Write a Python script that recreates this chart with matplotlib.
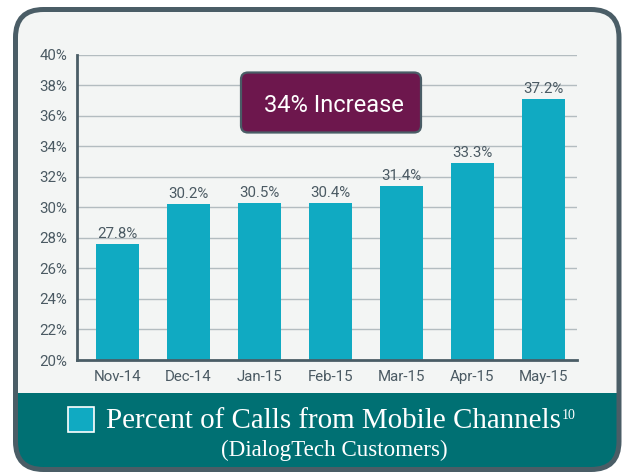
import matplotlib
matplotlib.use("Agg")
import matplotlib.pyplot as plt
from matplotlib.patches import FancyBboxPatch, Rectangle

# ---- data ----
categories = ["Nov-14", "Dec-14", "Jan-15", "Feb-15", "Mar-15", "Apr-15", "May-15"]
bar_values = [27.6, 30.2, 30.3, 30.3, 31.4, 32.9, 37.1]
value_labels = ["27.8%", "30.2%", "30.5%", "30.4%", "31.4%", "33.3%", "37.2%"]
y_ticks = [20, 22, 24, 26, 28, 30, 32, 34, 36, 38, 40]
y_tick_labels = [f"{v}%" for v in y_ticks]
callout = "34% Increase"
title = "Percent of Calls from Mobile Channels"
title_sup = "10"
subtitle = "(DialogTech Customers)"

# ---- style ----
BAR = "#10aac2"
BANNER = "#007073"
CALLOUT = "#6d174d"
FRAME = "#4a5d66"
BG = "#f3f5f4"
TXT = "#4b5a63"
GRID = "#b3bcc0"
SERIF = "Liberation Serif"

W, H = 623, 472
fig = plt.figure(figsize=(W / 100, H / 100), dpi=100)
fig.patch.set_facecolor("white")

bg = fig.add_axes([0, 0, 1, 1])
bg.set_xlim(0, W)
bg.set_ylim(H, 0)
bg.axis("off")

fx0, fy0, fx1, fy1 = 15.5, 9.5, 619, 469.5
frame_fill = FancyBboxPatch((fx0, fy0), fx1 - fx0, fy1 - fy0,
                            boxstyle="round,pad=0,rounding_size=28",
                            fc=BG, ec="none", zorder=0)
bg.add_patch(frame_fill)
banner = Rectangle((fx0 - 5, 393), fx1 - fx0 + 10, 100, fc=BANNER, ec="none", zorder=1)
bg.add_patch(banner)
banner.set_clip_path(frame_fill)
frame_edge = FancyBboxPatch((fx0, fy0), fx1 - fx0, fy1 - fy0,
                            boxstyle="round,pad=0,rounding_size=28",
                            fc="none", ec=FRAME, lw=5 * 0.72, zorder=3)
bg.add_patch(frame_edge)

# legend square
bg.add_patch(Rectangle((68, 407), 26, 25, fc=BAR, ec="white", lw=1.2, zorder=4))

renderer = fig.canvas.get_renderer()


def fit_text(x, y, s, target_w, ha, family, base_size, **kw):
    t = bg.text(x, y, s, ha=ha, va="baseline", family=family, fontsize=base_size, **kw)
    w = t.get_window_extent(renderer).width
    t.set_fontsize(base_size * target_w / w)
    return t


t_title = fit_text(106, 428, title, 456, "left", [SERIF], 18, color="white", zorder=5)
ext = t_title.get_window_extent(renderer)
x_end = ext.x1
bg.text(x_end + 1, 419, title_sup, ha="left", va="baseline", family=[SERIF],
        fontsize=10, color="white", zorder=5)
fit_text(334, 456, subtitle, 228, "center", [SERIF], 14, color="white", zorder=5)

# ---- chart ----
ax = fig.add_axes([77 / W, (H - 360) / H, 500 / W, 305 / H])
ax.patch.set_alpha(0)
x = list(range(len(categories)))
ax.bar(x, bar_values, width=43 / 71, color=BAR, zorder=3)
ax.set_xlim(-0.570, 6.472)
ax.set_ylim(20, 40)
ax.set_yticks(y_ticks)
ax.set_yticklabels(y_tick_labels)
ax.set_xticks(x)
ax.set_xticklabels(categories)
for v in y_ticks[1:]:
    ax.axhline(v, color=GRID, lw=1.0, zorder=1)
for s in ["top", "right"]:
    ax.spines[s].set_visible(False)
for s in ["left", "bottom"]:
    ax.spines[s].set_color(FRAME)
    ax.spines[s].set_linewidth(2.0)
    ax.spines[s].set_zorder(4)
ax.tick_params(axis="both", length=0, colors=TXT, labelsize=10.8)
ax.tick_params(axis="y", pad=7)
ax.tick_params(axis="x", pad=7)
for lab in ax.get_xticklabels() + ax.get_yticklabels():
    lab.set_family(["Roboto", "DejaVu Sans"])

for xi, v, lab in zip(x, bar_values, value_labels):
    ax.annotate(lab, (xi, v), xytext=(0, 4.5), textcoords="offset points",
                ha="center", va="baseline", fontsize=10.8, color=TXT,
                family=["Roboto", "DejaVu Sans"], zorder=5)

bg.set_zorder(0)
ax.set_zorder(1)
cal = fig.add_axes([0, 0, 1, 1])
cal.set_xlim(0, W)
cal.set_ylim(H, 0)
cal.axis("off")
cal.set_zorder(2)
cal.add_patch(FancyBboxPatch((241, 72.5), 180, 60,
                             boxstyle="round,pad=0,rounding_size=7",
                             fc=CALLOUT, ec=FRAME, lw=1.6))
cal.text(334, 111.5, callout, ha="center", va="baseline", fontsize=17,
         color="white", family=["Roboto", "DejaVu Sans"])

fig.savefig("out.png", dpi=100, facecolor=fig.get_facecolor())
